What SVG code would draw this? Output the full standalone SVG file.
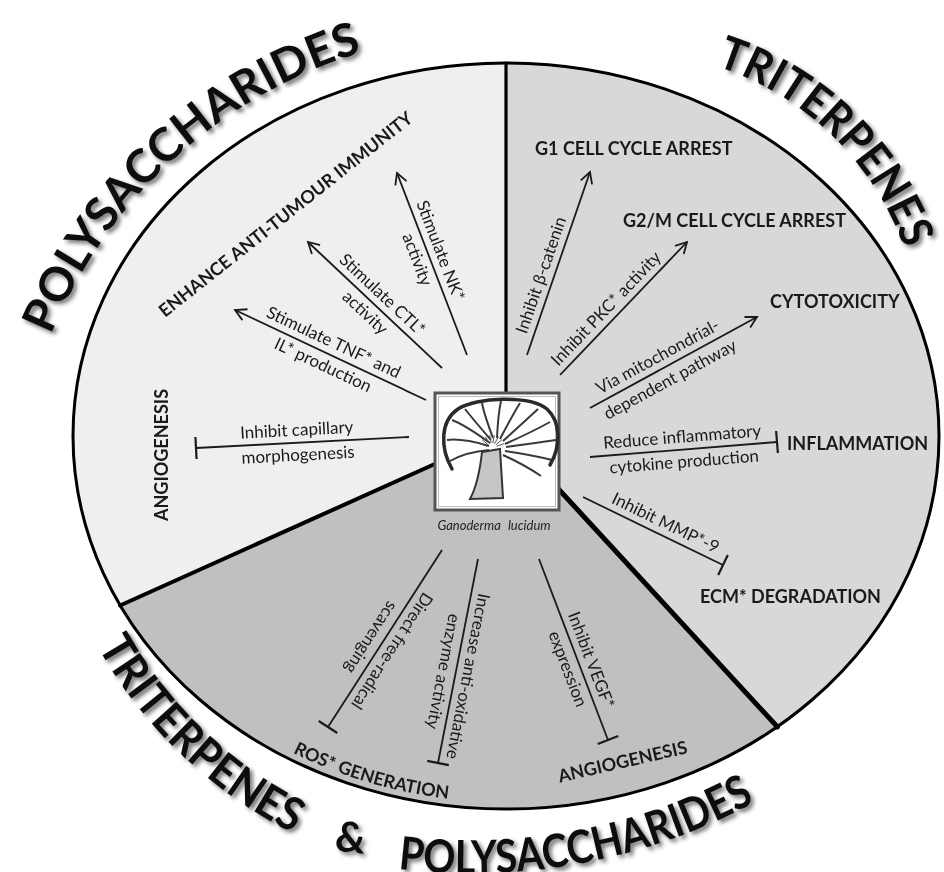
<svg xmlns="http://www.w3.org/2000/svg" width="944" height="872" viewBox="0 0 944 872">
<defs>
<style>
.lbl{font-family:Lato,"Open Sans","Liberation Sans",sans-serif;font-size:17px;fill:#1a1a1a;text-anchor:middle}
.cat{font-family:Lato,"Open Sans","Liberation Sans",sans-serif;font-size:18px;font-weight:700;fill:#1a1a1a}
.title{font-family:Lato,"Open Sans","Liberation Sans",sans-serif;font-size:46px;font-weight:700;fill:#111}
.edge{stroke:#1a1a1a;stroke-width:1.8;fill:none}
.act{marker-end:url(#arrow)}
.inh{marker-end:url(#tbar)}
.div{stroke:#000;fill:none;stroke-linecap:round}
</style>
<marker id="arrow" markerUnits="userSpaceOnUse" markerWidth="20" markerHeight="20" viewBox="-14 -10 20 20" refX="0" refY="0" orient="auto">
<path d="M-11,-6 L0,0 L-11,6" fill="none" stroke="#1a1a1a" stroke-width="1.8"/>
</marker>
<marker id="tbar" markerUnits="userSpaceOnUse" markerWidth="10" markerHeight="30" viewBox="-4 -15 10 30" refX="0" refY="0" orient="auto">
<path d="M0,-11 V11" stroke="#1a1a1a" stroke-width="2.2"/>
</marker>
<filter id="shadow" x="-10%" y="-10%" width="130%" height="130%">
<feDropShadow dx="3" dy="3" stdDeviation="2.2" flood-color="#000" flood-opacity="0.55"/>
</filter>
<path id="arc-poly-top" d="M50.7,335 A490,490 0 0 1 362.4,52"/>
<path id="arc-trit-top" d="M716,66 A295,295 0 0 1 905,250"/>
<path id="arc-trit-bottom" d="M97.6,646.8 A462,462 0 0 0 293.2,833.1"/>
<path id="arc-poly-bottom" d="M398,869 A600,600 0 0 0 755,802"/>
<path id="arc-ros" d="M286,749.2 A425,366 0 0 0 456,799.5"/>
</defs>

<rect width="944" height="872" fill="#fff"/>

<!-- three compound sectors -->
<g id="sectors">
<path id="sector-polysaccharides" d="M506,432 L506,63 A433,373 0 0 0 120,605.5 Z" fill="#efefef"/>
<path id="sector-triterpenes" d="M506,432 L506,63 A433,373 0 0 1 777.5,727 Z" fill="#d8d8d8"/>
<path id="sector-both" d="M506,432 L777.5,727 A433,373 0 0 1 120,605.5 Z" fill="#c0c0c0"/>
<ellipse cx="506" cy="436" rx="433" ry="373" fill="none" stroke="#000" stroke-width="3"/>
<line class="div" x1="506" y1="63" x2="506" y2="432" stroke-width="3.2"/>
<line class="div" x1="120" y1="605.5" x2="506" y2="432" stroke-width="4"/>
<line class="div" x1="777.5" y1="727" x2="506" y2="432" stroke-width="5"/>
</g>

<!-- curved headings -->
<g id="headings" class="title" filter="url(#shadow)">
<text><textPath href="#arc-poly-top" textLength="435" lengthAdjust="spacingAndGlyphs">POLYSACCHARIDES</textPath></text>
<text><textPath href="#arc-trit-top" textLength="272" lengthAdjust="spacingAndGlyphs">TRITERPENES</textPath></text>
<text><textPath href="#arc-trit-bottom" textLength="274" lengthAdjust="spacingAndGlyphs">TRITERPENES</textPath></text>
<text transform="translate(349,852) rotate(6)" text-anchor="middle" font-size="42">&amp;</text>
<text><textPath href="#arc-poly-bottom" textLength="369" lengthAdjust="spacingAndGlyphs">POLYSACCHARIDES</textPath></text>
</g>

<!-- connectors -->
<g id="connectors" class="edge">
<line class="act" x1="467" y1="355" x2="397" y2="173"/>
<line class="act" x1="442" y1="368" x2="308" y2="242"/>
<line class="act" x1="426" y1="400" x2="235" y2="310"/>
<line class="inh" x1="409" y1="437" x2="196" y2="448"/>
<line class="act" x1="527" y1="355" x2="590" y2="172"/>
<line class="act" x1="560" y1="375" x2="687" y2="242"/>
<line class="act" x1="590" y1="408" x2="757" y2="317"/>
<line class="inh" x1="590" y1="457" x2="777" y2="442"/>
<line class="inh" x1="583" y1="497" x2="723" y2="565"/>
<line class="inh" x1="442" y1="550" x2="328" y2="727"/>
<line class="inh" x1="478" y1="559" x2="438" y2="763"/>
<line class="inh" x1="539" y1="559" x2="608" y2="740"/>
</g>

<!-- connector labels -->
<g id="connector-labels" class="lbl">
<g transform="translate(428.6,255.1) rotate(69)"><text y="-7">Stimulate NK*</text><text y="18">activity</text></g>
<g transform="translate(373.6,303.7) rotate(43.2)"><text y="-7">Stimulate CTL*</text><text y="18">activity</text></g>
<g transform="translate(328.2,353.9) rotate(25.2)"><text y="-7">Stimulate TNF* and</text><text y="18">IL* production</text></g>
<g transform="translate(297.4,442.7) rotate(-3)"><text y="-7">Inhibit capillary</text><text y="18">morphogenesis</text></g>
<g transform="translate(553.1,279.3) rotate(-71)"><text y="-7">Inhibit β-catenin</text></g>
<g transform="translate(615.3,317.2) rotate(-46.3)"><text y="-7">Inhibit PKC* activity</text></g>
<g transform="translate(663.8,367.8) rotate(-28.6)"><text y="-7">Via mitochondrial-</text><text y="19">dependent pathway</text></g>
<g transform="translate(683.2,449.5) rotate(-4.6)"><text y="-7">Reduce inflammatory</text><text y="18">cytokine production</text></g>
<g transform="translate(660,534.4) rotate(25.9)"><text y="-7">Inhibit MMP*-9</text></g>
<g transform="translate(381.3,644.1) rotate(122.8)"><text y="-7">Direct free-radical</text><text y="18">scavenging</text></g>
<g transform="translate(455.5,673.8) rotate(101.1)"><text y="-7">Increase anti-oxidative</text><text y="18">enzyme activity</text></g>
<g transform="translate(579.2,664.5) rotate(69.1)"><text y="-7">Inhibit VEGF*</text><text y="18">expression</text></g>
</g>

<!-- outcome nodes -->
<g id="outcomes" class="cat">
<text id="enhance-immunity" transform="translate(165,318) rotate(-38.4)">ENHANCE ANTI-TUMOUR IMMUNITY</text>
<text id="angiogenesis-left" transform="translate(168,455) rotate(-90)" text-anchor="middle">ANGIOGENESIS</text>
<text id="g1-arrest" x="535" y="155">G1 CELL CYCLE ARREST</text>
<text id="g2m-arrest" x="623" y="227">G2/M CELL CYCLE ARREST</text>
<text id="cytotoxicity" x="770" y="308">CYTOTOXICITY</text>
<text id="inflammation" x="787" y="450">INFLAMMATION</text>
<text id="ecm-degradation" x="700" y="603">ECM* DEGRADATION</text>
<text id="ros-generation"><textPath href="#arc-ros" startOffset="50%" text-anchor="middle">ROS* GENERATION</textPath></text>
<text id="angiogenesis-bottom" transform="translate(622.5,761.5) rotate(-13)" y="6.5" text-anchor="middle">ANGIOGENESIS</text>
</g>

<!-- central mushroom -->
<g id="ganoderma-lucidum">
<rect x="435" y="393" width="124" height="117" fill="#fff" stroke="#555" stroke-width="3"/>
<rect x="438.5" y="396.5" width="117" height="110" fill="none" stroke="#bbb" stroke-width="1"/>
<path d="M489,450 Q466,452 450,461 M489,446 Q462,438 447,440 M490,443 Q465,425 452,420 M491,440 Q472,418 465,409 M493,438 Q484,414 482,403 M497,438 Q498,415 501,401 M500,439 Q512,416 520,403 M503,441 Q524,422 538,409 M505,444 Q532,432 550,422 M506,447 Q536,443 556,440 M505,451 Q532,455 552,460 M503,455 Q525,465 541,476" fill="none" stroke="#3a3a3a" stroke-width="2"/>
<path d="M452,469 C440,448 440,421 458,409 C476,397 530,395 547,409 C561,422 561,446 550,465" fill="none" stroke="#2a2a2a" stroke-width="3.5" stroke-linecap="round"/>
<path d="M487.3,446.3 L479.8,443.6 M488.2,444.8 L482,439.6 M489.5,443.7 L485.5,436.7 M491.1,443.1 L489.7,435.2 M492.9,443.1 L494.3,435.2 M494.5,443.7 L498.5,436.7 M495.8,444.8 L502,439.6 M496.7,446.3 L504.2,443.6" stroke="#555" stroke-width="1"/>
<path d="M482,452 C480,470 476,488 470,499 L503,498 C502,482 501,465 500,449 Z" fill="#c6c6c6" stroke="#333" stroke-width="2"/>
<text x="494" y="530" text-anchor="middle" font-family="Lato,'Open Sans','Liberation Sans',sans-serif" font-style="italic" font-size="13" word-spacing="4" fill="#222">Ganoderma lucidum</text>
</g>
</svg>
